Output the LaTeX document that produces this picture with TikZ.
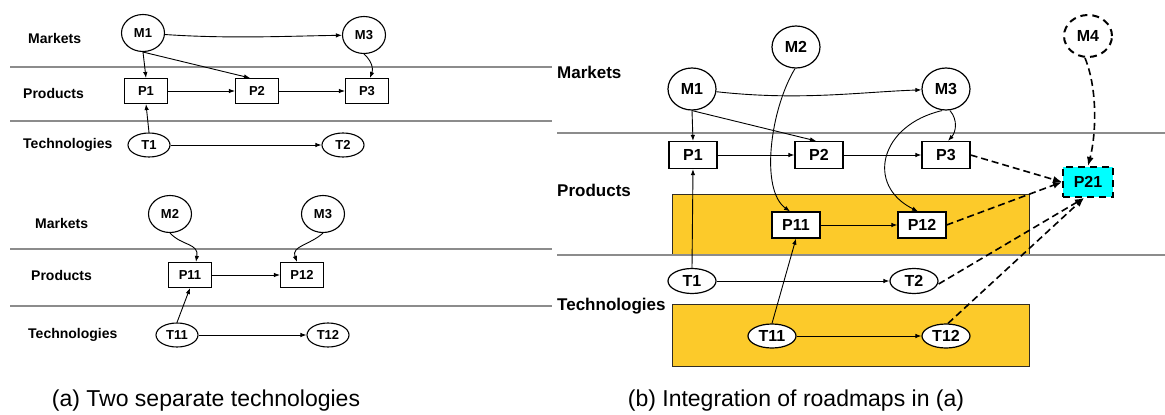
\documentclass[tikz,border=0pt]{standalone}
\usepackage{fontspec}
\setmainfont{Liberation Sans}
\usetikzlibrary{shapes.geometric,arrows.meta}
\definecolor{bandgray}{RGB}{140,140,140}
\definecolor{gold}{RGB}{252,202,42}
\definecolor{goldedge}{RGB}{50,45,35}
\definecolor{aqua}{RGB}{0,255,255}
\begin{document}
\begin{tikzpicture}[
  x=1pt, y=-1pt,
  band/.style={draw=bandgray, line width=2.2pt},
  lblA/.style={font=\bfseries\fontsize{14}{16}\selectfont, anchor=west, inner sep=0},
  lblB/.style={font=\bfseries\fontsize{17}{19}\selectfont, anchor=west, inner sep=0},
  capt/.style={font=\fontsize{23}{26}\selectfont, inner sep=0},
  ovalA/.style={ellipse, draw, line width=1.1pt, fill=white, inner sep=0,
    font=\bfseries\fontsize{13}{15}\selectfont},
  boxA/.style={rectangle, draw, line width=1.1pt, fill=white, inner sep=0,
    minimum width=43pt, minimum height=25pt, font=\bfseries\fontsize{13}{15}\selectfont},
  ovalB/.style={ellipse, draw, line width=1.2pt, fill=white, inner sep=0,
    font=\bfseries\fontsize{16}{18}\selectfont},
  boxB/.style={rectangle, draw, line width=1.2pt, fill=white, inner sep=0,
    minimum width=48pt, minimum height=27pt, font=\bfseries\fontsize{16}{18}\selectfont},
  mkA/.style={ovalA, minimum width=43pt, minimum height=37pt},
  tcA/.style={ovalA, minimum width=42pt, minimum height=24pt},
  mkB/.style={ovalB, minimum width=48pt, minimum height=42pt},
  tcB/.style={ovalB, minimum width=48pt, minimum height=25pt},
  link/.style={line width=0.9pt, -{Latex[length=6pt,width=4.5pt]}},
  dlink/.style={line width=1.6pt, dash pattern=on 7pt off 4pt,
    -{Latex[length=9pt,width=7pt]}},
  dashedge/.style={dash pattern=on 7pt off 5pt, line width=2pt},
  swim/.style={fill=gold, draw=goldedge, line width=0.8pt}
]
\useasboundingbox (0,0) rectangle (1165,415);

% ---------------- (a) two separate roadmaps ----------------
\draw[band] (10,67) -- (552,67);
\draw[band] (10,121) -- (552,121);
\draw[band] (10,249) -- (552,249);
\draw[band] (10,306) -- (552,306);

\node[lblA] (aLm) at (28,38) {Markets};
\node[lblA] (aLp) at (23,93) {Products};
\node[lblA] (aLt) at (23,145) {Technologies};
\node[lblA] (aLm2) at (35,223) {Markets};
\node[lblA] (aLp2) at (31,275) {Products};
\node[lblA] (aLt2) at (28,335) {Technologies};

\node[mkA] (aM1) at (143,33) {M1};
\node[mkA] (aM3) at (364,35) {M3};
\node[boxA] (aP1) at (146,91) {P1};
\node[boxA] (aP2) at (257,91) {P2};
\node[boxA] (aP3) at (367,91) {P3};
\node[tcA] (aT1) at (149,145) {T1};
\node[tcA] (aT2) at (343,145) {T2};

\node[mkA] (aM2) at (170,214) {M2};
\node[mkA] (aM3b) at (323,214) {M3};
\node[boxA] (aP11) at (190,275) {P11};
\node[boxA] (aP12) at (302,275) {P12};
\node[tcA] (aT11) at (177,335) {T11};
\node[tcA] (aT12) at (328,335) {T12};

\draw[link] (aM1) .. controls (230,39) and (290,36) .. (aM3);
\draw[link] (aM1.south) -- (aP1.north);
\draw[link] (aM1.south) -- ([xshift=-7pt]aP2.north);
\draw[link] (aM3.south) .. controls (373,62) and (373,70) .. ([xshift=3pt]aP3.north);
\draw[link] (aP1) -- (aP2);
\draw[link] (aP2) -- (aP3);
\draw[link] (aT1.north) -- (aP1.south);
\draw[link] (aT1) -- (aT2);

\draw[link] (aM2.south) .. controls (182,246) and (199,243) .. ([xshift=6pt]aP11.north);
\draw[link] (aM3b.south) .. controls (310,245) and (291,246) .. ([xshift=-5pt]aP12.north);
\draw[link] (aP11) -- (aP12);
\draw[link] (aT11.north) -- (aP11.south);
\draw[link] (aT11) -- (aT12);

\node[capt] (capA) at (206,401) {(a) Two separate technologies};

% ---------------- (b) integrated roadmap ----------------
\draw[swim] (672,194) rectangle (1029,255);
\draw[swim] (672,304) rectangle (1029,366);
\draw[band] (557,133) -- (1165,133);
\draw[band] (557,255) -- (1165,255);

\node[lblB] (bLm) at (557,72) {Markets};
\node[lblB] (bLp) at (557,190) {Products};
\node[lblB] (bLt) at (557,306) {Technologies};

\node[mkB] (bM1) at (692,89) {M1};
\node[mkB] (bM2) at (796,47) {M2};
\node[mkB] (bM3) at (946,89) {M3};
\node[mkB, dashedge] (bM4) at (1088,36) {M4};
\node[boxB] (bP1) at (693,155) {P1};
\node[boxB] (bP2) at (819,155) {P2};
\node[boxB] (bP3) at (946,155) {P3};
\node[boxB, fill=aqua, dashedge,
  minimum width=50pt, minimum height=30pt] (bP21) at (1088,182) {P21};
\node[boxB, minimum height=26pt] (bP11) at (796,225) {P11};
\node[boxB, minimum height=26pt] (bP12) at (922,225) {P12};
\node[tcB] (bT1) at (692,281) {T1};
\node[tcB] (bT2) at (914,281) {T2};
\node[tcB, minimum height=24pt] (bT11) at (772,336) {T11};
\node[tcB, minimum height=24pt] (bT12) at (946,336) {T12};

\draw[link] (bM1) .. controls (800,101) and (860,92) .. (bM3);
\draw[link] (bM1.south) -- (bP1.north);
\draw[link] (bM1.south) -- ([xshift=-3pt]bP2.north);
\draw[link] ([xshift=-1pt]bM2.south) .. controls (770,110) and (760,190) .. ([xshift=-6pt]bP11.north);
\draw[link] ([xshift=4pt]bM3.south) .. controls (958,120) and (956,132) .. ([xshift=2pt]bP3.north);
\draw[link] ([xshift=-4pt]bM3.south) .. controls (880,125) and (865,185) .. ([xshift=-4pt]bP12.north);
\draw[link] (bP1) -- (bP2);
\draw[link] (bP2) -- (bP3);
\draw[link] (bP11) -- (bP12);
\draw[link] (bT1.north) -- (bP1.south);
\draw[link] (bT1) -- (bT2);
\draw[link] (bT11.north) -- (bP11.south);
\draw[link] (bT11) -- (bT12);

\draw[dlink] (bP3.east) -- (bP21.west);
\draw[dlink] (bP12.east) -- (bP21.west);
\draw[dlink] ([yshift=-3pt]bT2.east) -- ([xshift=-4pt]bP21.south);
\draw[dlink] ([xshift=2pt]bT12.north) -- ([xshift=-4pt]bP21.south);
\draw[dlink] ([xshift=-3pt]bM4.south) .. controls (1098,90) and (1096,135) .. (bP21.north);

\node[capt] (capB) at (796,401) {(b) Integration of roadmaps in (a)};
\end{tikzpicture}
\end{document}
